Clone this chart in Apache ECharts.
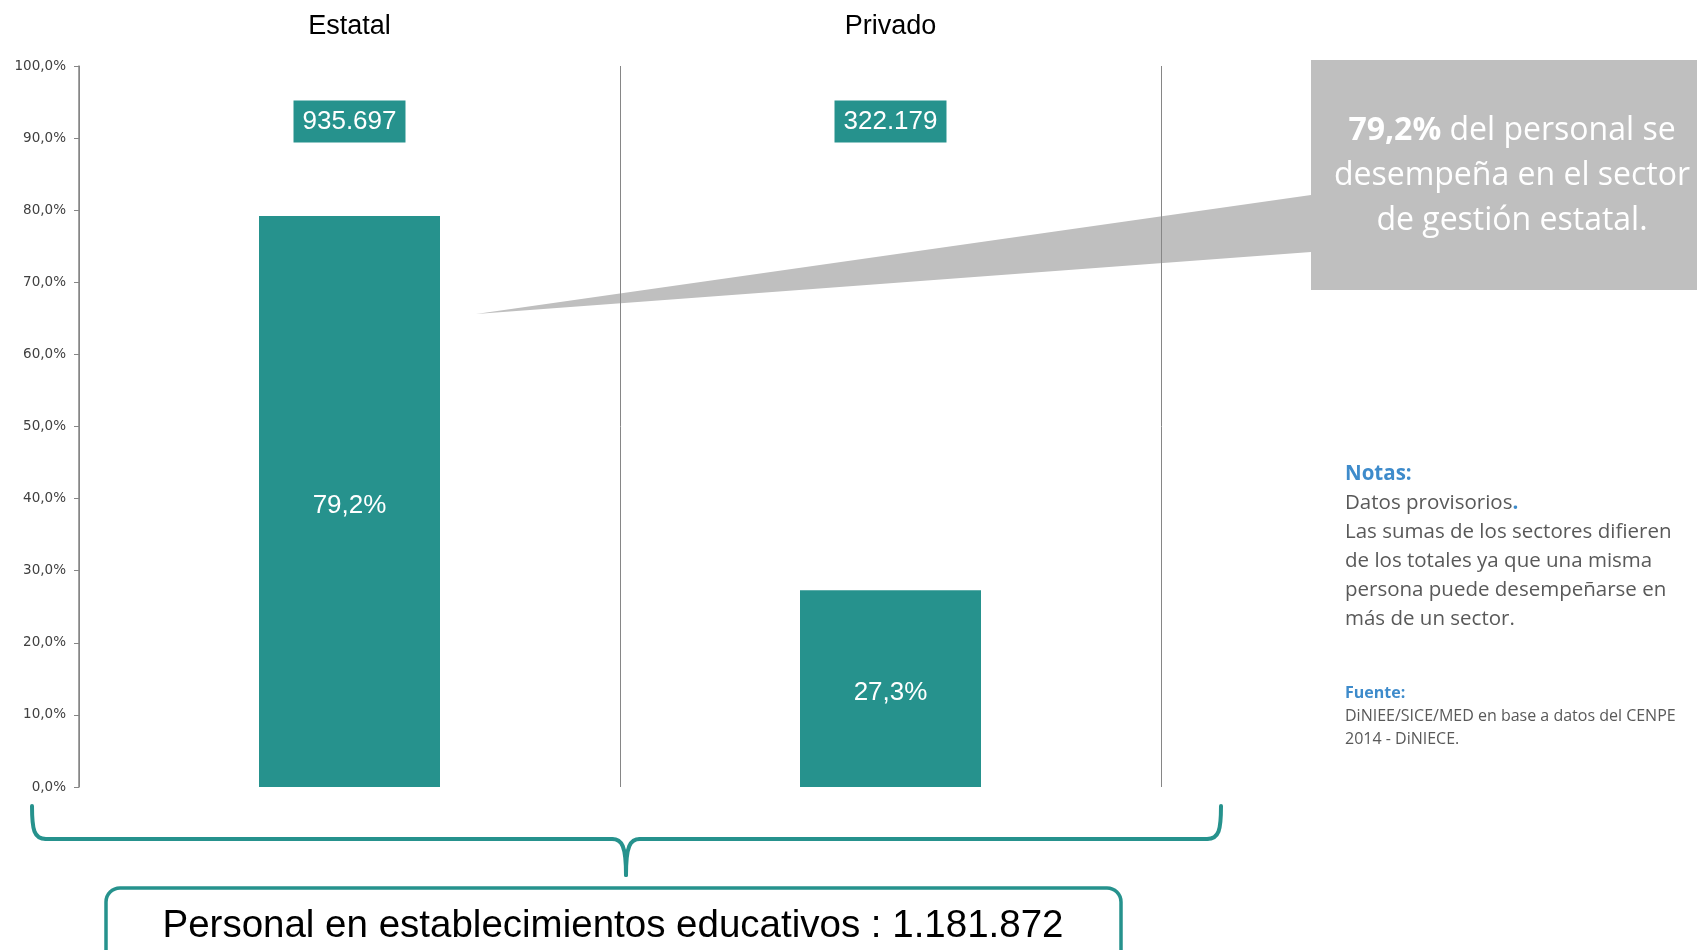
<!DOCTYPE html>
<html>
<head>
<meta charset="utf-8">
<script src="https://cdn.jsdelivr.net/npm/echarts@6/dist/echarts.min.js"></script>
<style>
  html, body { margin: 0; padding: 0; background: #ffffff; }
  #chart { width: 1697px; height: 950px; }
</style>
</head>
<body>
<div id="chart"></div>
<script>
// ---- data ----
const categories = ['Estatal', 'Privado'];
const percentages = [79.2, 27.3];
const counts = [935697, 322179];
const totalPersonal = 1181872;
const yTicks = { min: 0, max: 100, interval: 10 };

// ---- helpers ----
function thousands(n) {
  return String(n).replace(/\B(?=(\d{3})+(?!\d))/g, '.');
}
function pct(v, d) {
  return v.toFixed(d).replace('.', ',') + '%';
}

const TEAL = '#26928D';
const AXIS_GRAY = '#868686';
const COUNT_LABEL_Y = 92.3;
const bracketStyle = { fill: 'none', stroke: TEAL, lineWidth: 4, lineCap: 'round' };
const noteStyle = { fontFamily: 'Open Sans', fontSize: 20.5, fill: '#595959', verticalAlign: 'middle' };
const srcStyle = { fontFamily: 'Open Sans', fontSize: 16, fill: '#595959', verticalAlign: 'middle' };

const chart = echarts.init(document.getElementById('chart'), null, { renderer: 'canvas' });

const option = {
  backgroundColor: '#ffffff',
  animation: false,
  grid: { left: 79, right: 536, top: 66, bottom: 163, containLabel: false },
  xAxis: {
    type: 'category',
    position: 'top',
    data: categories,
    boundaryGap: true,
    axisLine: { show: false },
    axisTick: { show: false },
    splitLine: { show: true, lineStyle: { color: AXIS_GRAY, width: 1 } },
    axisLabel: {
      margin: 26,
      fontFamily: 'Liberation Sans',
      fontSize: 27,
      color: '#000000'
    }
  },
  yAxis: {
    type: 'value',
    min: yTicks.min,
    max: yTicks.max,
    interval: yTicks.interval,
    axisLine: { show: true, lineStyle: { color: AXIS_GRAY, width: 1.5 } },
    axisTick: { show: true, length: 5, lineStyle: { color: AXIS_GRAY } },
    splitLine: { show: false },
    axisLabel: {
      margin: 13,
      fontFamily: 'DejaVu Sans',
      fontSize: 13.5,
      color: '#404040',
      formatter: v => pct(v, 1)
    }
  },
  series: [
    {
      type: 'bar',
      data: percentages,
      barWidth: 181,
      itemStyle: { color: TEAL },
      label: {
        show: true,
        position: 'inside',
        offset: [0, 4],
        fontFamily: 'Liberation Sans',
        fontSize: 26,
        color: '#ffffff',
        formatter: p => pct(p.value, 1)
      }
    },
    {
      type: 'scatter',
      data: categories.map((c, i) => [c, COUNT_LABEL_Y]),
      symbolSize: 0,
      silent: true,
      itemStyle: { opacity: 1 },
      label: {
        show: true,
        position: 'inside',
        fontFamily: 'Liberation Sans',
        fontSize: 26,
        color: '#ffffff',
        backgroundColor: TEAL,
        opacity: 1,
        padding: [9, 9, 7, 9],
        formatter: p => thousands(counts[p.dataIndex])
      }
    }
  ],
  graphic: [
    // callout pointer
    {
      type: 'polygon',
      shape: { points: [[1311, 195], [1311, 252], [476, 314]] },
      style: { fill: '#BFBFBF' },
      silent: true
    },
    // callout box
    {
      type: 'rect',
      shape: { x: 1311, y: 60, width: 390, height: 230 },
      style: { fill: '#BFBFBF' },
      silent: true
    },
    {
      type: 'text',
      x: 1512, y: 176,
      style: {
        text: '{b|79,2%}{n| del personal se}\n{n|desempeña en el sector}\n{n|de gestión estatal.}',
        align: 'center',
        verticalAlign: 'middle',
        fill: '#ffffff',
        rich: {
          b: { fontFamily: 'Open Sans', fontWeight: 'bold', fontSize: 32, lineHeight: 45, fill: '#ffffff' },
          n: { fontFamily: 'Open Sans', fontSize: 32, lineHeight: 45, fill: '#ffffff' }
        }
      },
      silent: true
    },
    // notes
    {
      type: 'text', x: 1345, y: 474,
      style: { text: 'Notas:', fontFamily: 'Open Sans', fontWeight: 'bold', fontSize: 20.5, fill: '#3E8BCB', verticalAlign: 'middle' }
    },
    {
      type: 'text', x: 1345, y: 503,
      style: {
        text: '{n|Datos provisorios}{d|.}',
        verticalAlign: 'middle',
        rich: {
          n: { fontFamily: 'Open Sans', fontSize: 20.5, fill: '#595959' },
          d: { fontFamily: 'Open Sans', fontSize: 20.5, fontWeight: 'bold', fill: '#3E8BCB' }
        }
      }
    },
    { type: 'text', x: 1345, y: 532, style: Object.assign({ text: 'Las sumas de los sectores difieren' }, noteStyle) },
    { type: 'text', x: 1345, y: 561, style: Object.assign({ text: 'de los totales ya que una misma' }, noteStyle) },
    { type: 'text', x: 1345, y: 590, style: Object.assign({ text: 'persona puede desempeñarse en' }, noteStyle) },
    { type: 'text', x: 1345, y: 619, style: Object.assign({ text: 'más de un sector.' }, noteStyle) },
    {
      type: 'text', x: 1345, y: 693,
      style: { text: 'Fuente:', fontFamily: 'Open Sans', fontWeight: 'bold', fontSize: 16, fill: '#3E8BCB', verticalAlign: 'middle' }
    },
    { type: 'text', x: 1345, y: 716, style: Object.assign({ text: 'DiNIEE/SICE/MED en base a datos del CENPE' }, srcStyle) },
    { type: 'text', x: 1345, y: 739, style: Object.assign({ text: '2014 - DiNIECE.' }, srcStyle) },
    // curly bracket
    { type: 'bezierCurve', shape: { x1: 32, y1: 806, cpx1: 32, cpy1: 830, cpx2: 34, cpy2: 839, x2: 46, y2: 839 }, style: bracketStyle, silent: true },
    { type: 'line', shape: { x1: 46, y1: 839, x2: 612, y2: 839 }, style: bracketStyle, silent: true },
    { type: 'bezierCurve', shape: { x1: 612, y1: 839, cpx1: 622, cpy1: 839, cpx2: 626, cpy2: 846, x2: 626, y2: 875 }, style: bracketStyle, silent: true },
    { type: 'bezierCurve', shape: { x1: 626, y1: 875, cpx1: 626, cpy1: 846, cpx2: 630, cpy2: 839, x2: 640, y2: 839 }, style: bracketStyle, silent: true },
    { type: 'line', shape: { x1: 640, y1: 839, x2: 1207, y2: 839 }, style: bracketStyle, silent: true },
    { type: 'bezierCurve', shape: { x1: 1207, y1: 839, cpx1: 1219, cpy1: 839, cpx2: 1221, cpy2: 830, x2: 1221, y2: 806 }, style: bracketStyle, silent: true },
    // bottom box
    {
      type: 'rect',
      shape: { x: 106, y: 888, width: 1015, height: 110, r: 14 },
      style: { fill: 'none', stroke: TEAL, lineWidth: 3.5 },
      silent: true
    },
    {
      type: 'text',
      x: 613, y: 926,
      style: {
        text: 'Personal en establecimientos educativos : ' + thousands(totalPersonal),
        align: 'center',
        verticalAlign: 'middle',
        fontFamily: 'Liberation Sans',
        fontSize: 38.5,
        fill: '#000000'
      },
      silent: true
    }
  ]
};

chart.setOption(option);
</script>
</body>
</html>
